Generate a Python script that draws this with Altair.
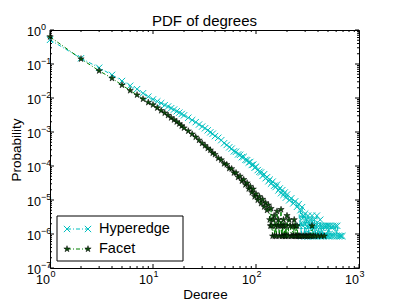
import altair as alt
import pandas as pd

# ---- data ----
hyper_deg = [1, 2, 3, 4, 5, 6, 7, 8, 9, 10, 11, 12, 13, 14, 15, 16, 17, 18, 19, 20,
             22, 24, 26, 28, 30, 32, 34, 36, 38, 40,
             43, 46, 49, 52, 55, 58, 61, 64, 67, 70, 73, 76, 79, 82, 85, 88, 91, 94, 97, 100,
             104, 108, 112, 116, 120, 124, 128, 132, 136, 140,
             145, 150, 155, 160, 165, 170, 175, 180, 185, 190, 195, 200,
             210, 220, 230, 240, 250, 260,
             265, 270, 275, 280, 285, 290, 295, 300]
hyper_logp = [-0.29, -0.83, -1.11, -1.32, -1.50, -1.64, -1.74, -1.86, -1.96, -2.04,
              -2.10, -2.15, -2.21, -2.25, -2.30, -2.34, -2.39, -2.43, -2.47, -2.51,
              -2.58, -2.65, -2.71, -2.78, -2.84, -2.89, -2.95, -3.01, -3.05, -3.12,
              -3.17, -3.24, -3.33, -3.38, -3.45, -3.49, -3.57, -3.58, -3.66, -3.67,
              -3.74, -3.73, -3.82, -3.83, -3.90, -3.88, -3.97, -3.96, -4.05, -4.02,
              -4.12, -4.17, -4.19, -4.29, -4.24, -4.36, -4.33, -4.45, -4.40, -4.52,
              -4.46, -4.58, -4.62, -4.55, -4.72, -4.66, -4.80, -4.71, -4.85, -4.78, -4.93, -4.84,
              -5.01, -4.95, -5.10, -5.04, -5.20, -5.12,
              -5.76, -5.30, -6.06, -5.21, -5.76, -5.46, -6.06, -5.40]
hyper_tail_deg = [305, 310, 315, 318, 320, 325, 330, 335, 340, 345, 350, 355, 360, 364,
                  368, 375, 382, 386, 390, 398, 405, 412, 420, 425, 430, 440, 450, 456,
                  470, 480, 490, 500, 510, 520, 530, 545, 560, 575, 590, 605, 615, 630,
                  650, 670, 690]
hyper_tail_logp = [-6.06, -5.58, -5.76, -6.06, -5.46, -6.06, -5.76, -5.58, -6.06, -5.76,
                   -5.46, -6.06, -5.76, -6.06, -5.58, -6.06, -5.76, -6.06, -5.46, -6.06,
                   -5.76, -6.06, -5.58, -6.06, -5.76, -6.06, -5.76, -6.06, -5.76, -6.06,
                   -5.76, -6.06, -5.76, -6.06, -5.76, -6.06, -5.76, -6.06, -5.76, -6.06,
                   -5.76, -6.06, -6.06, -6.06, -6.06]

facet_deg = [1, 2, 3, 4, 5, 6, 7, 8, 9, 10, 11, 12, 13, 14, 15, 16, 17, 18, 19, 20,
             22, 24, 26, 28, 30, 32, 34, 36, 38, 40,
             43, 46, 49, 52, 55, 58, 61, 64, 67, 70, 73, 76, 79, 82, 85, 88, 91, 94, 97, 100,
             104, 108, 112, 116, 120, 124, 128, 132]
facet_logp = [-0.20, -0.85, -1.20, -1.42, -1.62, -1.78, -1.91, -2.03, -2.13, -2.20,
              -2.29, -2.37, -2.44, -2.51, -2.58, -2.64, -2.70, -2.76, -2.82, -2.88,
              -2.97, -3.06, -3.15, -3.24, -3.33, -3.40, -3.48, -3.53, -3.62, -3.66,
              -3.77, -3.82, -3.93, -3.96, -4.07, -4.08, -4.20, -4.20, -4.33, -4.30,
              -4.44, -4.40, -4.55, -4.50, -4.67, -4.60, -4.78, -4.68, -4.90, -4.82,
              -5.00, -4.90, -5.10, -4.98, -5.20, -5.08, -5.30, -5.15]
facet_tail_deg = [136, 138, 140, 142, 145, 148, 150, 152, 155, 158, 160, 163, 165, 168,
                  172, 175, 178, 180, 183, 185, 188, 190, 193, 195, 198, 200, 205, 210,
                  215, 220, 225, 228, 232, 235, 240, 242, 246, 250, 255, 260, 265, 270,
                  280, 290, 300, 310, 320, 330, 340, 350, 360, 375, 400, 430, 460]
facet_tail_logp = [-5.58, -5.76, -5.25, -5.76, -6.06, -5.58, -5.46, -6.06, -5.76, -6.06,
                   -5.33, -5.76, -5.58, -6.06, -5.76, -5.28, -6.06, -5.76, -6.06, -5.58,
                   -5.76, -6.06, -6.06, -5.76, -6.06, -5.46, -6.06, -5.58, -5.76, -6.06,
                   -6.06, -5.76, -6.06, -5.58, -6.06, -5.76, -6.06, -5.76, -6.06, -6.06,
                   -6.06, -6.06, -6.06, -6.06, -6.06, -6.06, -6.06, -6.06, -6.06, -5.76,
                   -6.06, -6.06, -6.06, -6.06, -6.06]

assert len(hyper_deg) == len(hyper_logp)
assert len(hyper_tail_deg) == len(hyper_tail_logp)
assert len(facet_deg) == len(facet_logp)
assert len(facet_tail_deg) == len(facet_tail_logp)

x_major = [1, 10, 100, 1000]
x_exp = ["0", "1", "2", "3"]
y_major = [1e-7, 1e-6, 1e-5, 1e-4, 1e-3, 1e-2, 1e-1, 1]
y_exp = ["\u22127", "\u22126", "\u22125", "\u22124", "\u22123", "\u22122", "\u22121", "0"]
x_minor = [m * 10 ** e for e in range(3) for m in range(2, 10)]
y_minor = [m * 10.0 ** e for e in range(-7, 0) for m in range(2, 10)]

title_text = "PDF of degrees"
xlabel = "Degree"
ylabel = "Probability"
legend_names = ["Hyperedge", "Facet"]

# ---- styling ----
W, H = 309, 238
FONT = "Liberation Sans"
CYAN = "#00BFBF"
GREEN = "#008000"
STARFILL = "#0b4d0b"
XPATH = "M-1,-1L1,1M-1,1L1,-1"
STAR = ("M0,-1L0.2245,-0.309L0.951,-0.309L0.363,0.118L0.588,0.809L0,0.382"
        "L-0.588,0.809L-0.363,0.118L-0.951,-0.309L-0.2245,-0.309Z")
DASHDOT = [4, 2, 1, 2]

xs = alt.Scale(type="log", domain=[1, 1000], nice=False)
ys = alt.Scale(type="log", domain=[1e-7, 1], nice=False)

hdf = pd.DataFrame({"d": hyper_deg + hyper_tail_deg,
                    "p": [10 ** v for v in hyper_logp + hyper_tail_logp]})
fdf = pd.DataFrame({"d": facet_deg + facet_tail_deg,
                    "p": [10 ** v for v in facet_logp + facet_tail_logp]})

X = alt.X("d:Q", scale=xs, axis=None)
Y = alt.Y("p:Q", scale=ys, axis=None)

h_line = alt.Chart(hdf).mark_line(color=CYAN, strokeWidth=1, strokeDash=DASHDOT).encode(x=X, y=Y)
h_pts = alt.Chart(hdf).mark_point(shape=XPATH, size=40, filled=False, color=CYAN,
                                   strokeWidth=1, opacity=1).encode(x=X, y=Y)
f_line = alt.Chart(fdf).mark_line(color=GREEN, strokeWidth=1, strokeDash=DASHDOT).encode(x=X, y=Y)
f_pts = alt.Chart(fdf).mark_point(shape=STAR, size=44, filled=True, fill=STARFILL,
                                   stroke="black", strokeWidth=0.5, opacity=1).encode(x=X, y=Y)

# ---- ticks (inward, all four sides) ----
xmaj = pd.DataFrame({"v": x_major, "e": x_exp})
xmin = pd.DataFrame({"v": x_minor})
ymaj = pd.DataFrame({"v": y_major, "e": y_exp})
ymin = pd.DataFrame({"v": y_minor})
XV = alt.X("v:Q", scale=xs, axis=None)
YV = alt.Y("v:Q", scale=ys, axis=None)

ticks = []
for df, ln in ((xmaj, 4), (xmin, 2)):
    ticks.append(alt.Chart(df).mark_rule(color="black", strokeWidth=1).encode(
        x=XV, y=alt.value(H), y2=alt.value(H - ln)))
    ticks.append(alt.Chart(df).mark_rule(color="black", strokeWidth=1).encode(
        x=XV, y=alt.value(0), y2=alt.value(ln)))
for df, ln in ((ymaj, 4), (ymin, 2)):
    ticks.append(alt.Chart(df).mark_rule(color="black", strokeWidth=1).encode(
        y=YV, x=alt.value(0), x2=alt.value(ln)))
    ticks.append(alt.Chart(df).mark_rule(color="black", strokeWidth=1).encode(
        y=YV, x=alt.value(W), x2=alt.value(W - ln)))

# ---- tick labels ----
xl_base = alt.Chart(xmaj).mark_text(align="right", baseline="alphabetic", font=FONT,
                                    fontSize=12.5, color="black").encode(
    x=XV, y=alt.value(H + 16), text=alt.value("10"))
xl_exp = alt.Chart(xmaj).mark_text(align="left", baseline="alphabetic", font=FONT,
                                   fontSize=9, dx=0.5, color="black").encode(
    x=XV, y=alt.value(H + 9), text="e:N")
yl_base = alt.Chart(ymaj).mark_text(align="right", baseline="alphabetic", font=FONT,
                                    fontSize=12.5, dy=5.5, color="black").encode(
    y=YV, x=alt.value(-9), text=alt.value("10"))
yl_exp = alt.Chart(ymaj).mark_text(align="left", baseline="alphabetic", font=FONT,
                                   fontSize=9, dy=-0.5, color="black").encode(
    y=YV, x=alt.value(-9), text="e:N")

one = pd.DataFrame({"k": [0]})
title = alt.Chart(one).mark_text(align="center", baseline="alphabetic", font=FONT,
                                 fontSize=15, color="black").encode(
    x=alt.value(W / 2), y=alt.value(-4), text=alt.value(title_text))
xlab = alt.Chart(one).mark_text(align="center", baseline="alphabetic", font=FONT,
                                fontSize=13.5, color="black").encode(
    x=alt.value(W / 2 + 1), y=alt.value(H + 31), text=alt.value(xlabel))
ylab = alt.Chart(one).mark_text(align="center", baseline="alphabetic", font=FONT,
                                fontSize=13.5, angle=270, color="black").encode(
    x=alt.value(-29), y=alt.value(H / 2 + 1), text=alt.value(ylabel))

# ---- legend ----
LX0, LX1, LY0, LY1 = 7, 133, 186, 231
R1, R2 = 199, 219
leg = [
    alt.Chart(one).mark_rect(fill="white", stroke="black", strokeWidth=1).encode(
        x=alt.value(LX0), x2=alt.value(LX1), y=alt.value(LY0), y2=alt.value(LY1)),
    alt.Chart(one).mark_rule(color=CYAN, strokeWidth=1, strokeDash=DASHDOT).encode(
        x=alt.value(17), x2=alt.value(38), y=alt.value(R1)),
    alt.Chart(one).mark_rule(color=GREEN, strokeWidth=1, strokeDash=DASHDOT).encode(
        x=alt.value(17), x2=alt.value(38), y=alt.value(R2)),
]
for lx in (17, 38):
    leg.append(alt.Chart(one).mark_point(shape=XPATH, size=40, filled=False, color=CYAN,
                                         strokeWidth=1, opacity=1).encode(
        x=alt.value(lx), y=alt.value(R1)))
    leg.append(alt.Chart(one).mark_point(shape=STAR, size=44, filled=True, fill=STARFILL,
                                         stroke="black", strokeWidth=0.5, opacity=1).encode(
        x=alt.value(lx), y=alt.value(R2)))
leg.append(alt.Chart(one).mark_text(align="left", baseline="middle", font=FONT,
                                    fontSize=14.5, color="black").encode(
    x=alt.value(49), y=alt.value(R1), text=alt.value(legend_names[0])))
leg.append(alt.Chart(one).mark_text(align="left", baseline="middle", font=FONT,
                                    fontSize=14.5, color="black").encode(
    x=alt.value(49), y=alt.value(R2), text=alt.value(legend_names[1])))

chart = alt.layer(
    h_line, h_pts, f_line, f_pts, *ticks, xl_base, xl_exp, yl_base, yl_exp,
    title, xlab, ylab, *leg
).properties(
    width=W, height=H,
    padding={"left": 42, "top": 22, "right": 30, "bottom": 31},
    autosize=alt.AutoSizeParams(type="none"),
    background="white",
).configure_view(stroke="black", strokeWidth=1)

chart.save("out.html", embed_options={"renderer": "svg", "actions": False})
